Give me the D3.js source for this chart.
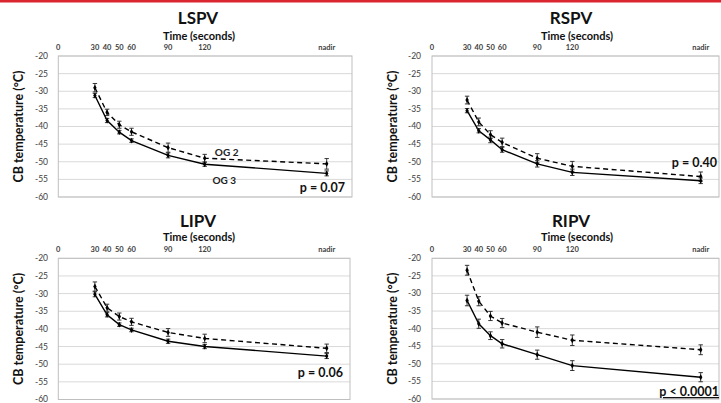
<!DOCTYPE html>
<html><head><meta charset="utf-8">
<script src="https://cdn.jsdelivr.net/npm/d3@7"></script>
<style>body{margin:0;background:#fff}svg{display:block}</style>
</head><body>
<svg id="c" width="721" height="403"></svg>
<script>
// ---- data ----
const timeTicks = [0, 30, 40, 50, 60, 90, 120];
const timePoints = [30, 40, 50, 60, 90, 120, "nadir"];
const yTicks = [-20, -25, -30, -35, -40, -45, -50, -55, -60];
const panelNames = ["LSPV", "RSPV", "LIPV", "RIPV"];
const pLabels = ["p = 0.07", "p = 0.40", "p = 0.06", "p < 0.0001"];
const seriesNames = ["OG 2", "OG 3"];

const lspvOG2 = [-29.0, -36.0, -39.5, -41.5, -46.0, -49.0, -50.6];
const lspvOG2err = [1.2, 0.9, 1.0, 1.0, 1.3, 1.1, 1.5];
const lspvOG3 = [-31.2, -38.3, -41.6, -44.0, -48.2, -50.7, -53.3];
const lspvOG3err = [0.6, 0.6, 0.5, 0.5, 0.7, 0.6, 0.7];

const rspvOG2 = [-32.5, -38.7, -42.3, -44.5, -49.0, -51.3, -54.2];
const rspvOG2err = [1.1, 1.1, 1.1, 1.2, 1.3, 1.4, 1.3];
const rspvOG3 = [-35.5, -41.2, -43.8, -46.6, -50.6, -53.0, -55.4];
const rspvOG3err = [0.6, 0.6, 0.8, 0.7, 0.9, 0.9, 0.8];

const lipvOG2 = [-28.0, -34.0, -36.5, -38.0, -41.0, -42.7, -45.5];
const lipvOG2err = [1.3, 1.0, 1.0, 1.0, 1.1, 1.2, 1.2];
const lipvOG3 = [-30.2, -36.0, -38.8, -40.3, -43.5, -45.0, -47.7];
const lipvOG3err = [0.7, 0.6, 0.5, 0.5, 0.6, 0.6, 0.7];

const ripvOG2 = [-23.4, -32.2, -36.4, -38.4, -41.0, -43.3, -46.0];
const ripvOG2err = [1.4, 1.3, 1.3, 1.3, 1.5, 1.5, 1.4];
const ripvOG3 = [-32.0, -38.6, -42.0, -44.3, -47.4, -50.5, -53.8];
const ripvOG3err = [1.5, 1.3, 1.1, 1.2, 1.3, 1.4, 1.3];

const panelData = [
  [[lspvOG2, lspvOG2err], [lspvOG3, lspvOG3err]],
  [[rspvOG2, rspvOG2err], [rspvOG3, rspvOG3err]],
  [[lipvOG2, lipvOG2err], [lipvOG3, lipvOG3err]],
  [[ripvOG2, ripvOG2err], [ripvOG3, ripvOG3err]]
];

// ---- layout ----
const NADIR = 220;
const layouts = [
  {x0: 58.3, x120: 204.7, xN: 326.7, right: 352, top: 56, bottom: 197, titleX: 198, titleY: 18, timeX: 199, timeY: 36, tickY: 47.5, yLabX: 48, ytitleX: 19, pX: 345, pY: 192, showOG: true},
  {x0: 432, x120: 572.3, xN: 700.7, right: 719, top: 56, bottom: 197, titleX: 571, titleY: 18, timeX: 577, timeY: 36, tickY: 47.5, yLabX: 421, ytitleX: 393, pX: 717, pY: 167},
  {x0: 58.3, x120: 204.7, xN: 326.7, right: 350, top: 258.3, bottom: 399.5, titleX: 198, titleY: 221, timeX: 199, timeY: 237.5, tickY: 249, yLabX: 48, ytitleX: 19, pX: 343, pY: 377},
  {x0: 432, x120: 572.3, xN: 700.7, right: 719, top: 258.3, bottom: 399, titleX: 571, titleY: 221, timeX: 577, timeY: 237.5, tickY: 249, yLabX: 421, ytitleX: 393, pX: 719, pY: 396, underline: true}
];

const svg = d3.select("#c");
const FONT = "Lato, 'Open Sans', sans-serif";

// red top strip
svg.append("rect").attr("x", 0).attr("y", 0).attr("width", 721).attr("height", 2.5).attr("fill", "#d9262f");

panelNames.forEach((name, i) => {
  const L = layouts[i];
  const x = d3.scaleLinear().domain([0, 120, NADIR]).range([L.x0, L.x120, L.xN]);
  const y = d3.scaleLinear().domain([-20, -60]).range([L.top, L.bottom]);
  const g = svg.append("g");

  // gridlines
  g.selectAll("line.grid").data(yTicks).join("line")
    .attr("x1", L.x0).attr("x2", L.right)
    .attr("y1", d => y(d)).attr("y2", d => y(d))
    .attr("stroke", "#d9d9d9").attr("stroke-width", 1);
  // border
  g.append("rect").attr("x", L.x0).attr("y", L.top)
    .attr("width", L.right - L.x0).attr("height", L.bottom - L.top)
    .attr("fill", "none").attr("stroke", "#bfbfbf").attr("stroke-width", 1);

  // y tick labels
  g.selectAll("text.yl").data(yTicks).join("text")
    .attr("x", L.yLabX).attr("y", d => y(d)).attr("dy", "0.35em")
    .attr("text-anchor", "end").attr("font-family", FONT).attr("font-size", 8.5)
    .attr("fill", "#404040").text(d => d);

  // top tick labels
  const topLabels = timeTicks.map(t => ({v: t, s: String(t)})).concat([{v: NADIR, s: "nadir"}]);
  g.selectAll("text.xl").data(topLabels).join("text")
    .attr("x", d => x(d.v)).attr("y", L.tickY).attr("dy", "0.35em")
    .attr("text-anchor", "middle").attr("font-family", FONT).attr("font-size", 7.5)
    .attr("font-weight", "bold").attr("fill", "#404040").text(d => d.s);

  // titles
  g.append("text").attr("x", L.titleX).attr("y", L.titleY).attr("dy", "0.35em")
    .attr("text-anchor", "middle").attr("font-family", FONT).attr("font-weight", "bold")
    .attr("font-size", 17).attr("fill", "#111").text(name);
  g.append("text").attr("x", L.timeX).attr("y", L.timeY).attr("dy", "0.35em")
    .attr("text-anchor", "middle").attr("font-family", FONT).attr("font-weight", "bold")
    .attr("font-size", 11).attr("fill", "#111").text("Time (seconds)");
  const yc = (L.top + L.bottom) / 2;
  g.append("text").attr("transform", `translate(${L.ytitleX},${yc}) rotate(-90)`).attr("dy", "0.35em")
    .attr("text-anchor", "middle").attr("font-family", FONT).attr("font-weight", "bold")
    .attr("font-size", 12.5).attr("fill", "#111").text("CB temperature (\u00B0C)");

  // series
  panelData[i].forEach(([vals, errs], si) => {
    const pts = vals.map((v, k) => ({t: timePoints[k] === "nadir" ? NADIR : timePoints[k], v, e: errs[k]}));
    const line = d3.line().x(d => x(d.t)).y(d => y(d.v));
    g.append("path").datum(pts).attr("d", line).attr("fill", "none")
      .attr("stroke", "#000").attr("stroke-width", 1.4)
      .attr("stroke-dasharray", si === 0 ? "5,3.5" : null);
    const eb = g.selectAll(null).data(pts).join("g");
    eb.append("line").attr("x1", d => x(d.t)).attr("x2", d => x(d.t))
      .attr("y1", d => y(d.v - d.e)).attr("y2", d => y(d.v + d.e))
      .attr("stroke", "#222").attr("stroke-width", 0.9);
    [1, -1].forEach(sg => {
      eb.append("line").attr("x1", d => x(d.t) - 2.2).attr("x2", d => x(d.t) + 2.2)
        .attr("y1", d => y(d.v + sg * d.e)).attr("y2", d => y(d.v + sg * d.e))
        .attr("stroke", "#222").attr("stroke-width", 0.9);
    });
    eb.append("path").attr("transform", d => `translate(${x(d.t)},${y(d.v)})`)
      .attr("d", d3.symbol().type(d3.symbolDiamond).size(10)).attr("fill", "#000");
  });

  // OG labels
  if (L.showOG) {
    g.append("text").attr("x", x(138)).attr("y", y(-47.3)).attr("dy", "0.35em")
      .attr("text-anchor", "middle").attr("font-family", FONT).attr("font-weight", "bold")
      .attr("font-size", 10).attr("fill", "#222").text(seriesNames[0]);
    g.append("text").attr("x", x(136)).attr("y", y(-55.2)).attr("dy", "0.35em")
      .attr("text-anchor", "middle").attr("font-family", FONT).attr("font-weight", "bold")
      .attr("font-size", 10).attr("fill", "#222").text(seriesNames[1]);
  }

  // p label
  const pt = g.append("text").attr("x", L.pX).attr("y", L.pY)
    .attr("text-anchor", "end").attr("font-family", FONT).attr("font-weight", "bold")
    .attr("font-size", 12.5).attr("fill", "#111").text(pLabels[i]);
  if (L.underline) pt.attr("text-decoration", "underline");
});
</script>
</body></html>
